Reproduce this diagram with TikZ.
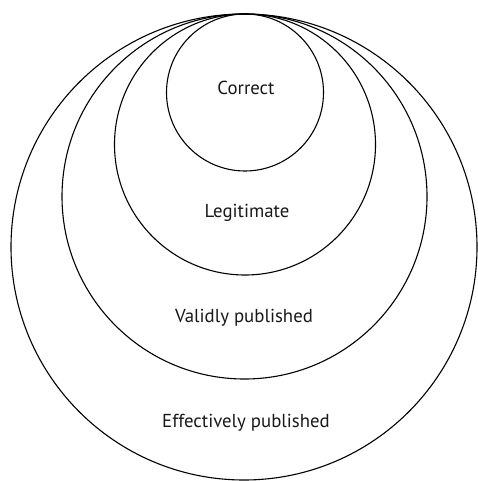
\documentclass[tikz,border=0pt]{standalone}
\usepackage{fontspec}
\setmainfont{PT Sans}
\begin{document}
\begin{tikzpicture}[x=1pt,y=-1pt,
  ring/.style={draw=black,line width=1.1pt,circle,inner sep=0pt},
  lab/.style={font=\fontsize{18.8}{20}\selectfont,text=black!90}]
\useasboundingbox (0,0) rectangle (477,481);
\node[ring,minimum size=466pt] (c4) at (244,247) {};
\node[ring,minimum size=365pt] (c3) at (244.5,196.5) {};
\node[ring,minimum size=261pt] (c2) at (245,144.5) {};
\node[ring,minimum size=157pt] (c1) at (245,92.5) {};
\node[lab] (t1) at (246,88) {Correct};
\node[lab] (t2) at (247,213) {Legitimate};
\node[lab] (t3) at (244,318) {Validly published};
\node[lab] (t4) at (246,423) {Effectively published};
\end{tikzpicture}
\end{document}
